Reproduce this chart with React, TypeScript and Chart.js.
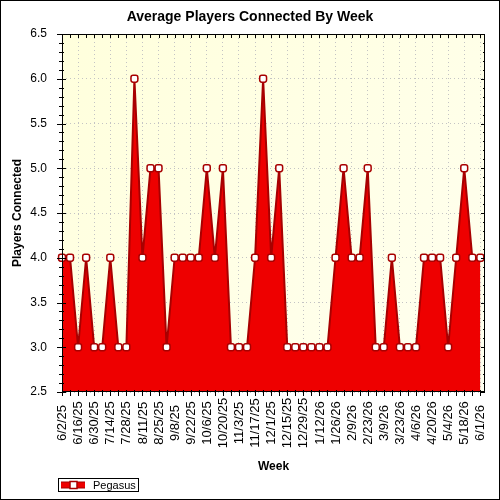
import React, { useEffect, useRef } from "react";
import { Chart, registerables } from "chart.js";

Chart.register(...registerables);

const chartTitle = "Average Players Connected By Week";
const xAxisTitle = "Week";
const yAxisTitle = "Players Connected";
const seriesName = "Pegasus";

const weeks = [
  "6/2/25", "6/9/25", "6/16/25", "6/23/25", "6/30/25", "7/7/25", "7/14/25", "7/21/25", "7/28/25",
  "8/4/25", "8/11/25", "8/18/25", "8/25/25", "9/1/25", "9/8/25", "9/15/25", "9/22/25", "9/29/25",
  "10/6/25", "10/13/25", "10/20/25", "10/27/25", "11/3/25", "11/10/25", "11/17/25", "11/24/25",
  "12/1/25", "12/8/25", "12/15/25", "12/22/25", "12/29/25", "1/5/26", "1/12/26", "1/19/26", "1/26/26",
  "2/2/26", "2/9/26", "2/16/26", "2/23/26", "3/2/26", "3/9/26", "3/16/26", "3/23/26", "3/30/26",
  "4/6/26", "4/13/26", "4/20/26", "4/27/26", "5/4/26", "5/11/26", "5/18/26", "5/25/26", "6/1/26",
];

const players = [
  4, 4, 3, 4, 3, 3, 4, 3, 3, 6,
  4, 5, 5, 3, 4, 4, 4, 4, 5, 4,
  5, 3, 3, 3, 4, 6, 4, 5, 3, 3,
  3, 3, 3, 3, 4, 5, 4, 4, 5, 3,
  3, 4, 3, 3, 3, 4, 4, 4, 3, 4,
  5, 4, 4,
];

const yMin = 2.5;
const yMax = 6.5;
const yStep = 0.5;
const xMaxIndex = 52.58;

const FONT = "'Liberation Sans', Arial, sans-serif";
const FILL = "#ee0000";
const EDGE = "#a80000";

const decorPlugin = {
  id: "decor",
  beforeDraw(chart: any) {
    const { ctx, chartArea: a, width, height } = chart;
    ctx.save();
    ctx.fillStyle = "#ffffff";
    ctx.fillRect(0, 0, width, height);
    const g = ctx.createLinearGradient(a.left, a.top, a.right, a.bottom);
    g.addColorStop(0, "#ffffdc");
    g.addColorStop(1, "#fffff0");
    ctx.fillStyle = g;
    ctx.fillRect(a.left, a.top, a.right - a.left, a.bottom - a.top);
    ctx.restore();
  },
  afterDraw(chart: any) {
    const { ctx, chartArea: a, width, height } = chart;
    const xs = chart.scales.x;
    const ys = chart.scales.y;
    ctx.save();
    // title
    ctx.fillStyle = "#000";
    ctx.font = `bold 14px ${FONT}`;
    ctx.textAlign = "center";
    ctx.textBaseline = "middle";
    ctx.fillText(chartTitle, width / 2, 17);

    // plot border
    ctx.strokeStyle = "#000";
    ctx.lineWidth = 1;
    ctx.strokeRect(Math.round(a.left) + 0.5, Math.round(a.top) + 0.5, Math.round(a.right - a.left) - 1, Math.round(a.bottom - a.top) - 1);

    // x ticks (each week) bottom outward and top inward
    ctx.beginPath();
    for (let i = 0; i < weeks.length; i++) {
      const px = Math.round(xs.getPixelForValue(i)) + 0.5;
      ctx.moveTo(px, a.bottom - 2);
      ctx.lineTo(px, a.bottom + 4);
      ctx.moveTo(px, a.top);
      ctx.lineTo(px, a.top + 4);
    }
    // y ticks
    const nMinor = Math.round((yMax - yMin) / 0.1);
    for (let k = 0; k <= nMinor; k++) {
      const v = yMin + k * 0.1;
      const py = Math.round(ys.getPixelForValue(v)) + 0.5;
      const major = k % 5 === 0;
      ctx.moveTo(a.left - (major ? 5 : 3), py);
      ctx.lineTo(a.left + (major ? 4 : 2), py);
      ctx.moveTo(a.right, py);
      ctx.lineTo(a.right - (major ? 4 : 2), py);
    }
    ctx.stroke();

    // x tick labels, rotated, centred
    ctx.fillStyle = "#000";
    ctx.font = `13px ${FONT}`;
    ctx.textAlign = "center";
    ctx.textBaseline = "middle";
    for (let i = 0; i < weeks.length; i += 2) {
      const px = xs.getPixelForValue(i);
      ctx.save();
      ctx.translate(px + 0.5, 423);
      ctx.rotate(-Math.PI / 2);
      ctx.fillText(weeks[i], 0, 0);
      ctx.restore();
    }

    // legend
    const lx = 58.5, ly = 478.5, lw = 80, lh = 13;
    ctx.strokeStyle = "#000";
    ctx.strokeRect(lx, ly, lw, lh);
    const cy = ly + lh / 2;
    ctx.fillStyle = FILL;
    ctx.fillRect(61, cy - 3, 24, 6);
    ctx.strokeStyle = EDGE;
    ctx.beginPath();
    ctx.moveTo(61, cy - 3);
    ctx.lineTo(85, cy - 3);
    ctx.moveTo(61, cy + 3);
    ctx.lineTo(85, cy + 3);
    ctx.stroke();
    ctx.fillStyle = "#fff";
    ctx.fillRect(70, cy - 3.5, 7, 7);
    ctx.strokeStyle = EDGE;
    ctx.lineWidth = 1.5;
    ctx.strokeRect(70, cy - 3.5, 7, 7);
    ctx.lineWidth = 1;
    ctx.fillStyle = "#000";
    ctx.font = `11px ${FONT}`;
    ctx.textAlign = "left";
    ctx.textBaseline = "middle";
    ctx.fillText(chart.data.datasets[0].label, 93, cy + 0.5);

    // outer border
    ctx.strokeStyle = "#000";
    ctx.strokeRect(0.5, 0.5, width - 1, height - 1);
    ctx.restore();
  },
};

export default function App() {
  const ref = useRef<HTMLCanvasElement | null>(null);

  useEffect(() => {
    document.body.style.margin = "0";
    const canvas = ref.current;
    if (!canvas) return;
    const chart = new Chart(canvas, {
      type: "line",
      data: {
        datasets: [
          {
            label: seriesName,
            data: players.map((v, i) => ({ x: i, y: v })),
            fill: "start",
            backgroundColor: FILL,
            borderColor: EDGE,
            borderWidth: 2,
            tension: 0,
            pointStyle: "rectRounded",
            pointRadius: 4,
            pointBackgroundColor: "#ffffff",
            pointBorderColor: EDGE,
            pointBorderWidth: 1.5,
            clip: false as any,
          },
        ],
      },
      options: {
        animation: false,
        responsive: false,
        devicePixelRatio: 1,
        events: [],
        layout: { padding: { left: 0, right: 15, top: 34, bottom: 24 } },
        plugins: {
          legend: { display: false },
          tooltip: { enabled: false },
          title: { display: false },
        },
        scales: {
          x: {
            type: "linear",
            min: 0,
            max: xMaxIndex,
            afterBuildTicks: (s: any) => {
              s.ticks = weeks.map((_, i) => ({ value: i })).filter((t) => t.value % 2 === 0);
            },
            afterFit: (s: any) => {
              s.height = 84;
            },
            ticks: { display: false },
            grid: { color: "#c4c4c4", lineWidth: 1, drawTicks: false },
            border: { display: false, dash: [1, 3] },
            title: {
              display: true,
              text: xAxisTitle,
              color: "#000",
              font: { family: FONT, size: 12, weight: "bold" },
              padding: { top: 0, bottom: 2 },
            },
          },
          y: {
            type: "linear",
            min: yMin,
            max: yMax,
            afterFit: (s: any) => {
              s.width = 62;
            },
            ticks: {
              stepSize: yStep,
              color: "#000",
              padding: 15,
              font: { family: FONT, size: 12 },
              callback: (v: any) => Number(v).toFixed(1),
            },
            grid: { color: "#c4c4c4", lineWidth: 1, drawTicks: false },
            border: { display: false, dash: [1, 3] },
            title: {
              display: true,
              text: yAxisTitle,
              color: "#000",
              font: { family: FONT, size: 12, weight: "bold" },
              padding: { top: 10, bottom: 0 },
            },
          },
        },
      },
      plugins: [decorPlugin],
    });
    return () => chart.destroy();
  }, []);

  return <canvas ref={ref} width={500} height={500} style={{ display: "block", width: 500, height: 500 }} />;
}
